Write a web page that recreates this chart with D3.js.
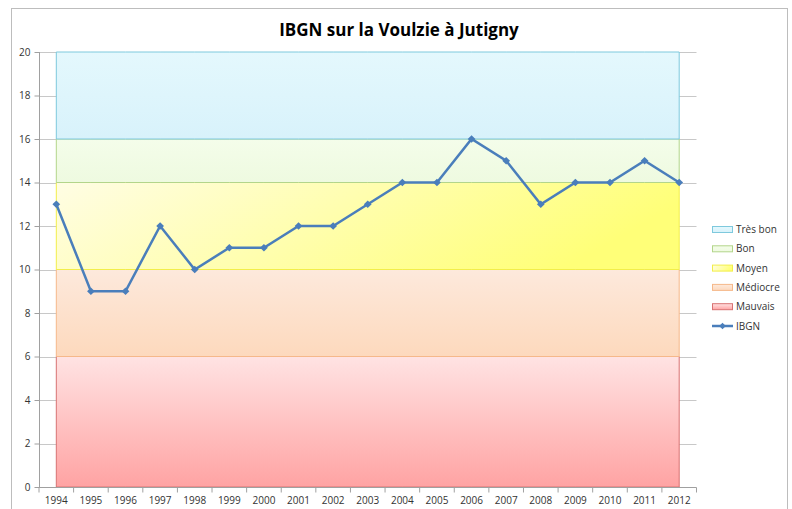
<!DOCTYPE html>
<html>
<head>
<meta charset="utf-8">
<script src="https://cdn.jsdelivr.net/npm/d3@7"></script>
<style>
  body { margin: 0; background: #fff; }
  text { font-family: "Open Sans", "DejaVu Sans", sans-serif; fill: #333; }
</style>
</head>
<body>
<script>
// data
const years = ["1994","1995","1996","1997","1998","1999","2000","2001","2002","2003",
               "2004","2005","2006","2007","2008","2009","2010","2011","2012"];
const ibgn = [13, 9, 9, 12, 10, 11, 11, 12, 12, 13, 14, 14, 16, 15, 13, 14, 14, 15, 14];
const classNames = ["Mauvais", "Médiocre", "Moyen", "Bon", "Très bon"];
const classLimits = [0, 6, 10, 14, 16, 20];
const yTicks = [0, 2, 4, 6, 8, 10, 12, 14, 16, 18, 20];

const W = 792, H = 509;
const svg = d3.select("body").append("svg")
    .attr("width", W).attr("height", H);

// gradients for the quality bands
const defs = svg.append("defs");
const bandStyles = {
    "Mauvais":  { stops: ["#ffe3e3", "#ffa3a3"], line: "#d87272", dir: [0, 0, 0, 1] },
    "Médiocre": { stops: ["#fde9dc", "#fdd9bd"], line: "#f6b88a", dir: [0, 0, 0, 1] },
    "Moyen":    { stops: ["#fffde4", "#ffff78"], line: "#f2ee4a", dir: [0, 0, 1, 0.25] },
    "Bon":      { stops: ["#f4fdea", "#eefae0"], line: "#b3d58a", dir: [0, 0, 0, 1] },
    "Très bon": { stops: ["#e4f8fd", "#d8f2fb"], line: "#7ec9dd", dir: [0, 0, 0, 1] }
};
classNames.forEach((c, i) => {
    const s = bandStyles[c];
    const g = defs.append("linearGradient").attr("id", "grad" + i)
        .attr("x1", s.dir[0]).attr("y1", s.dir[1]).attr("x2", s.dir[2]).attr("y2", s.dir[3]);
    g.append("stop").attr("offset", 0).attr("stop-color", s.stops[0]);
    g.append("stop").attr("offset", 1).attr("stop-color", s.stops[1]);
});

// outer frame
svg.append("rect")
    .attr("x", 11.5).attr("y", 8.5).attr("width", 776).attr("height", 510)
    .attr("fill", "#fff").attr("stroke", "#bdbdbd");

svg.append("text")
    .attr("x", 399).attr("y", 36)
    .attr("text-anchor", "middle")
    .style("font-size", "17px").style("font-weight", "bold")
    .style("fill", "#000")
    .text("IBGN sur la Voulzie à Jutigny");

// scales
const x = d3.scaleBand().domain(years).range([39, 696.5]);
const xc = d => x(d) + x.bandwidth() / 2;
const y = d3.scaleLinear().domain([0, 20]).range([487, 52]);

// gridlines
svg.append("g").selectAll("line").data(yTicks.slice(1)).join("line")
    .attr("x1", 39).attr("x2", 696.5)
    .attr("y1", d => Math.round(y(d)) + 0.5).attr("y2", d => Math.round(y(d)) + 0.5)
    .attr("stroke", "#c8c8c8");

// quality bands as stacked areas
classNames.forEach((c, i) => {
    const lo = classLimits[i], hi = classLimits[i + 1];
    const area = d3.area().x(d => xc(d)).y0(y(lo)).y1(y(hi));
    svg.append("path").datum(years)
        .attr("d", area)
        .attr("fill", `url(#grad${i})`)
        .attr("stroke", bandStyles[c].line)
        .attr("stroke-width", 1);
});

// axes
const yAxis = svg.append("g")
    .attr("transform", "translate(39.5,0)")
    .call(d3.axisLeft(y).tickValues(yTicks).tickSize(5).tickPadding(4));
const xAxis = svg.append("g")
    .attr("transform", "translate(0,487.5)")
    .call(d3.axisBottom(x).tickSize(0).tickPadding(9));
xAxis.selectAll(".tick line").remove();
xAxis.append("g").selectAll("line").data(years.concat(["end"])).join("line")
    .attr("x1", (d, i) => 39 + i * x.step()).attr("x2", (d, i) => 39 + i * x.step())
    .attr("y1", 0).attr("y2", 5).attr("stroke", "#a0a0a0");
[yAxis, xAxis].forEach(a => {
    a.select(".domain").attr("stroke", "#a0a0a0");
    a.selectAll("line").attr("stroke", "#a0a0a0");
    a.selectAll("text").style("font-size", "10px").style("fill", "#333")
        .style("font-family", "'Open Sans', sans-serif");
});
yAxis.select(".domain").attr("d", "M0,52V487.5");
xAxis.select(".domain").attr("d", "M39,0H696.5");

// IBGN line
const line = d3.line().x((d, i) => xc(years[i])).y(d => y(d));
svg.append("path").datum(ibgn)
    .attr("d", line)
    .attr("fill", "none")
    .attr("stroke", "#4a7ebb")
    .attr("stroke-width", 2.5);
svg.append("g").selectAll("path").data(ibgn).join("path")
    .attr("d", d3.symbol(d3.symbolSquare, 30))
    .attr("transform", (d, i) => `translate(${xc(years[i])},${y(d)}) rotate(45)`)
    .attr("fill", "#4a7ebb");

// legend
const legendItems = classNames.slice().reverse().concat(["IBGN"]);
const legend = svg.append("g").attr("transform", "translate(712,229)");
legendItems.forEach((c, i) => {
    const g = legend.append("g").attr("transform", `translate(0,${i * 19.3})`);
    if (c === "IBGN") {
        g.append("line").attr("x1", 0).attr("x2", 21).attr("y1", 0.5).attr("y2", 0.5)
            .attr("stroke", "#4a7ebb").attr("stroke-width", 2.5);
        g.append("path").attr("d", d3.symbol(d3.symbolSquare, 22))
            .attr("transform", "translate(10.5,0.5) rotate(45)").attr("fill", "#4a7ebb");
    } else {
        const k = classNames.indexOf(c);
        g.append("rect").attr("x", 0.5).attr("y", -2.5).attr("width", 20).attr("height", 6)
            .attr("fill", `url(#grad${k})`).attr("stroke", bandStyles[c].line);
    }
    g.append("text").attr("x", 24).attr("y", 4)
        .style("font-size", "10px").style("fill", "#333")
        .text(c);
});
</script>
</body>
</html>
